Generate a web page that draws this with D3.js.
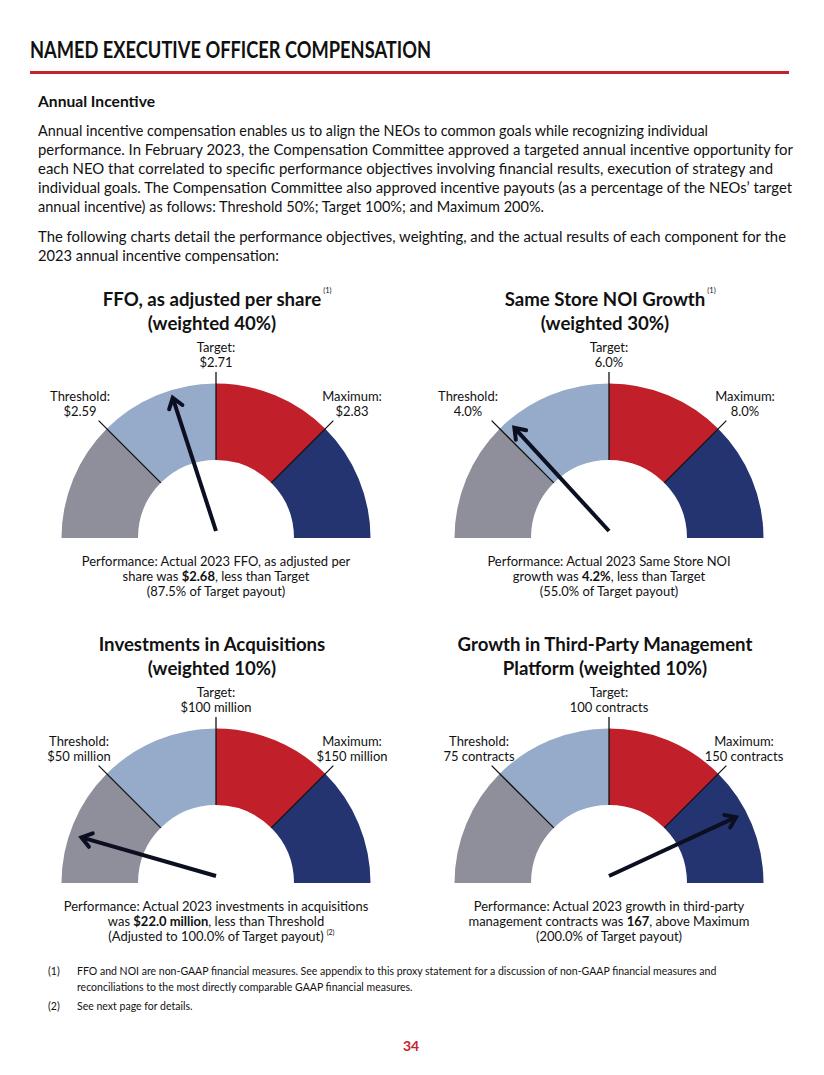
<!DOCTYPE html>
<html>
<head>
<meta charset="utf-8">
<script src="https://cdn.jsdelivr.net/npm/d3@7"></script>
<style>
  body { margin: 0; background: #fff; }
  svg text { font-family: Lato, "Open Sans", sans-serif; fill: #111; }
</style>
</head>
<body>
<svg id="page"></svg>
<script>
// page text
const headerTitle = "NAMED EXECUTIVE OFFICER COMPENSATION";
const sectionTitle = "Annual Incentive";
const bodyLines = [
  "Annual incentive compensation enables us to align the NEOs to common goals while recognizing individual",
  "performance. In February 2023, the Compensation Committee approved a targeted annual incentive opportunity for",
  "each NEO that correlated to specific performance objectives involving financial results, execution of strategy and",
  "individual goals. The Compensation Committee also approved incentive payouts (as a percentage of the NEOs\u2019 target",
  "annual incentive) as follows: Threshold 50%; Target 100%; and Maximum 200%."
];
const bodyLines2 = [
  "The following charts detail the performance objectives, weighting, and the actual results of each component for the",
  "2023 annual incentive compensation:"
];
const footnoteMarks = ["(1)", "", "(2)"];
const footnoteLines = [
  "FFO and NOI are non-GAAP financial measures. See appendix to this proxy statement for a discussion of non-GAAP financial measures and",
  "reconciliations to the most directly comparable GAAP financial measures.",
  "See next page for details."
];
const pageNumber = "34";

// gauges
const gaugeTitles = [
  ["FFO, as adjusted per share", "(weighted 40%)"],
  ["Same Store NOI Growth", "(weighted 30%)"],
  ["Investments in Acquisitions", "(weighted 10%)"],
  ["Growth in Third-Party Management", "Platform (weighted 10%)"]
];
const titleNotes = ["(1)", "(1)", "", ""];
const thresholdLabels = ["$2.59", "4.0%", "$50 million", "75 contracts"];
const targetLabels = ["$2.71", "6.0%", "$100 million", "100 contracts"];
const maximumLabels = ["$2.83", "8.0%", "$150 million", "150 contracts"];
const thresholds = [2.59, 4.0, 50, 75];
const targets = [2.71, 6.0, 100, 100];
const maximums = [2.83, 8.0, 150, 150];
const dialMins = [2.47, 2.0, 0, 50];
const dialMaxes = [2.95, 10.0, 200, 200];
const actuals = ["$2.68", "4.2%", "$22.0 million", "167"];
// where the needle sits on each dial
const needleReadings = [2.662, 4.11, 17.8, 172.4];
const perfLead = [
  "Performance: Actual 2023 FFO, as adjusted per",
  "Performance: Actual 2023 Same Store NOI",
  "Performance: Actual 2023 investments in acquisitions",
  "Performance: Actual 2023 growth in third-party"
];
const perfPre = ["share was ", "growth was ", "was ", "management contracts was "];
const perfPost = [", less than Target", ", less than Target", ", less than Threshold", ", above Maximum"];
const payouts = ["(87.5% of Target payout)", "(55.0% of Target payout)", "(Adjusted to 100.0% of Target payout)", "(200.0% of Target payout)"];
const payoutNotes = ["", "", "(2)", ""];

// layout
const W = 824, H = 1075;
const centers = [[216, 538], [609, 538], [216, 883], [609, 883]];
const thresholdDx = [-136, -141, -137, -130];
const maximumDx = [136, 136, 136, 135];
const rOuter = 154.5, rInner = 78, rTick = 166, needleLen = 140;
const segColors = ["#8f8f9c", "#96abc9", "#c11f2a", "#233470"];
const red = "#c5222e";

const svg = d3.select("#page").attr("width", W).attr("height", H);
svg.append("rect").attr("width", W).attr("height", H).attr("fill", "#fff");

// size a font so a reference line comes out at the width it has in the picture
function fitSize(text, weight, targetW) {
  const t = svg.append("text").attr("font-size", 20).attr("font-weight", weight).text(text);
  const w = t.node().getComputedTextLength();
  t.remove();
  return 20 * targetW / w;
}

// header
svg.append("text").attr("x", 30).attr("y", 58)
  .attr("font-size", 22.5).attr("font-weight", 700)
  .attr("textLength", 401).attr("lengthAdjust", "spacingAndGlyphs")
  .text(headerTitle);
svg.append("rect").attr("x", 30).attr("y", 71).attr("width", 759).attr("height", 3).attr("fill", red);

// body text
const bodySize = fitSize(bodyLines[0], 400, 670);
svg.append("text").attr("x", 38).attr("y", 107)
  .attr("font-size", bodySize).attr("font-weight", 700)
  .attr("textLength", 117).attr("lengthAdjust", "spacingAndGlyphs")
  .text(sectionTitle);

const bodyEnds = [708, 793, 773, 792, 544];
bodyLines.forEach((line, i) => {
  svg.append("text").attr("x", 38).attr("y", 136 + i * 19)
    .attr("font-size", bodySize)
    .attr("textLength", bodyEnds[i] - 38).attr("lengthAdjust", "spacingAndGlyphs")
    .text(line);
});
const bodyEnds2 = [786, 279];
bodyLines2.forEach((line, i) => {
  svg.append("text").attr("x", 38).attr("y", 242 + i * 19)
    .attr("font-size", bodySize)
    .attr("textLength", bodyEnds2[i] - 38).attr("lengthAdjust", "spacingAndGlyphs")
    .text(line);
});

// gauges
const titleSize = fitSize(gaugeTitles[3][0], 700, 295);
const labelSize = fitSize(perfLead[2], 400, 305);

const arc = d3.arc().innerRadius(rInner).outerRadius(rOuter);
const polar = (r, a) => [r * Math.sin(a), -r * Math.cos(a)];

centers.forEach(([cx, cy], i) => {
  const g = svg.append("g").attr("transform", `translate(${cx},${cy})`);

  // value -> angle (radians, 0 = straight up)
  const angle = d3.scaleLinear()
    .domain([dialMins[i], thresholds[i], targets[i], maximums[i], dialMaxes[i]])
    .range([-90, -45, 0, 45, 90].map(d => d * Math.PI / 180))
    .clamp(true);

  const stops = [dialMins[i], thresholds[i], targets[i], maximums[i], dialMaxes[i]];
  const segs = d3.pairs(stops);
  g.selectAll("path.seg").data(segs).enter().append("path")
    .attr("class", "seg")
    .attr("d", d => arc({ startAngle: angle(d[0]), endAngle: angle(d[1]) }))
    .attr("fill", (d, j) => segColors[j]);

  // threshold / target / maximum ticks
  g.selectAll("line.tick").data([thresholds[i], targets[i], maximums[i]]).enter().append("line")
    .attr("class", "tick")
    .attr("x1", d => polar(rInner, angle(d))[0]).attr("y1", d => polar(rInner, angle(d))[1])
    .attr("x2", d => polar(rTick, angle(d))[0]).attr("y2", d => polar(rTick, angle(d))[1])
    .attr("stroke", "#111").attr("stroke-width", 1.3);

  // needle
  const a = angle(needleReadings[i]);
  const py = -7;
  const tip = polar(needleLen, a);
  tip[1] += py;
  g.append("line").attr("x1", 0).attr("y1", py).attr("x2", tip[0]).attr("y2", tip[1])
    .attr("stroke", "#0c0f22").attr("stroke-width", 4);
  const back = a + Math.PI;
  const arm1 = polar(12, back - 0.62), arm2 = polar(12, back + 0.62);
  g.append("path")
    .attr("d", `M${tip[0] + arm1[0]},${tip[1] + arm1[1]}L${tip[0]},${tip[1]}L${tip[0] + arm2[0]},${tip[1] + arm2[1]}`)
    .attr("fill", "none").attr("stroke", "#0c0f22").attr("stroke-width", 4)
    .attr("stroke-linejoin", "miter").attr("stroke-linecap", "round");

  // title
  gaugeTitles[i].forEach((line, j) => {
    g.append("text").attr("x", -4).attr("y", -232 + j * 24)
      .attr("text-anchor", "middle").attr("font-size", titleSize).attr("font-weight", 700)
      .text(line);
  });
  if (titleNotes[i]) {
    const t = g.append("text").attr("x", -4).attr("y", -232)
      .attr("font-size", titleSize).attr("font-weight", 700).text(gaugeTitles[i][0]);
    const w = t.node().getComputedTextLength();
    t.remove();
    g.append("text").attr("x", -4 + w / 2 + 2).attr("y", -245)
      .attr("font-size", 7.5).text(titleNotes[i]);
  }

  // labels
  const label = (x, y, l1, l2) => {
    g.append("text").attr("x", x).attr("y", y).attr("text-anchor", "middle")
      .attr("font-size", labelSize).text(l1);
    g.append("text").attr("x", x).attr("y", y + 14.5).attr("text-anchor", "middle")
      .attr("font-size", labelSize).text(l2);
  };
  label(0, -186, "Target:", targetLabels[i]);
  label(thresholdDx[i], -137, "Threshold:", thresholdLabels[i]);
  label(maximumDx[i], -137, "Maximum:", maximumLabels[i]);

  // performance text
  g.append("text").attr("x", 0).attr("y", 28).attr("text-anchor", "middle")
    .attr("font-size", labelSize).text(perfLead[i]);
  const t2 = g.append("text").attr("x", 0).attr("y", 43).attr("text-anchor", "middle")
    .attr("font-size", labelSize);
  t2.append("tspan").text(perfPre[i]);
  t2.append("tspan").attr("font-weight", 700).text(actuals[i]);
  t2.append("tspan").text(perfPost[i]);
  const t3 = g.append("text").attr("x", 0).attr("y", 58).attr("text-anchor", "middle")
    .attr("font-size", labelSize).text(payouts[i]);
  if (payoutNotes[i]) {
    const w = t3.node().getComputedTextLength();
    g.append("text").attr("x", w / 2 + 3).attr("y", 52)
      .attr("font-size", 7).text(payoutNotes[i]);
  }
});

// footnotes
const footSize = fitSize(footnoteLines[0], 400, 640);
const footY = [975, 991, 1010];
footnoteLines.forEach((line, i) => {
  if (footnoteMarks[i]) {
    svg.append("text").attr("x", 48).attr("y", footY[i]).attr("font-size", footSize).text(footnoteMarks[i]);
  }
  svg.append("text").attr("x", 77).attr("y", footY[i]).attr("font-size", footSize).text(line);
});

svg.append("text").attr("x", 411).attr("y", 1051).attr("text-anchor", "middle")
  .attr("font-size", 14).attr("font-weight", 700).style("fill", red).text(pageNumber);
</script>
</body>
</html>
